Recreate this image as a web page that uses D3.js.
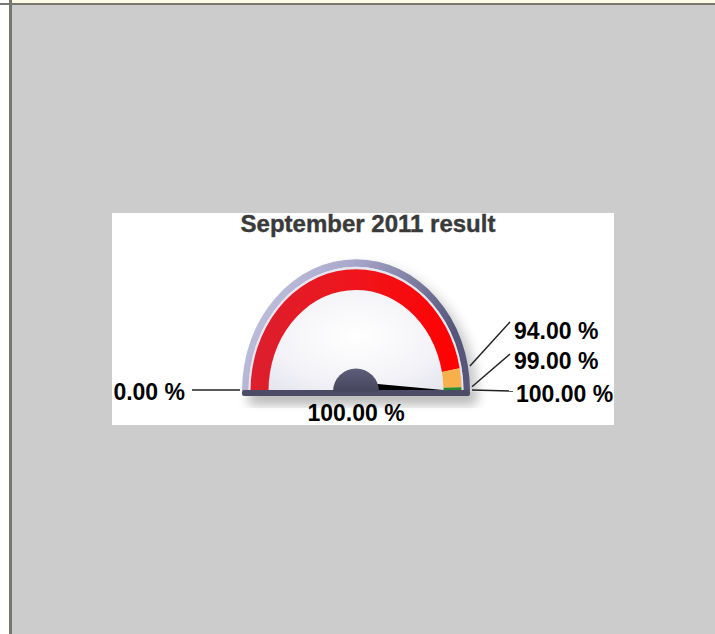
<!DOCTYPE html>
<meta charset="utf-8">
<head>
    <title>Gauge</title>
    <script src="https://d3js.org/d3.v7.min.js"></script>
    <style>
        body { margin: 0; background: #cccccc; }
        text { font-family: "Liberation Sans", Arial, sans-serif; font-weight: bold; }
    </style>
</head>
<body>
<script>
    // chart data
    var titleText = "September 2011 result";
    var bandFrom = [0, 94, 99];
    var bandTo = [94, 99, 100];
    var tickValues = [0, 94, 99, 100];
    var gaugeValue = 100;
    var scaleMin = 0, scaleMax = 100;

    var width = 715, height = 634;
    var bandColors = ["url(#redGrad)", "#f7b04a", "#2a8a2a"];

    var svg = d3.select("body").append("svg")
        .attr("width", width)
        .attr("height", height);

    var defs = svg.append("defs");

    var redGrad = defs.append("linearGradient").attr("id", "redGrad")
        .attr("x1", "0").attr("y1", "0").attr("x2", "1").attr("y2", "0");
    redGrad.append("stop").attr("offset", "0").attr("stop-color", "#dc1f2e");
    redGrad.append("stop").attr("offset", "0.55").attr("stop-color", "#f0141a");
    redGrad.append("stop").attr("offset", "1").attr("stop-color", "#ff0000");

    var rimGrad = defs.append("linearGradient").attr("id", "rimGrad")
        .attr("x1", "0").attr("y1", "0").attr("x2", "1").attr("y2", "0.3");
    rimGrad.append("stop").attr("offset", "0").attr("stop-color", "#cacae4");
    rimGrad.append("stop").attr("offset", "0.45").attr("stop-color", "#a8a8cc");
    rimGrad.append("stop").attr("offset", "1").attr("stop-color", "#56567a");

    var faceGrad = defs.append("radialGradient").attr("id", "faceGrad")
        .attr("cx", "0.5").attr("cy", "0.55").attr("r", "0.6");
    faceGrad.append("stop").attr("offset", "0").attr("stop-color", "#ffffff");
    faceGrad.append("stop").attr("offset", "0.6").attr("stop-color", "#f4f4f8");
    faceGrad.append("stop").attr("offset", "1").attr("stop-color", "#e4e4ee");

    var hubGrad = defs.append("linearGradient").attr("id", "hubGrad")
        .attr("x1", "0").attr("y1", "0").attr("x2", "0").attr("y2", "1");
    hubGrad.append("stop").attr("offset", "0").attr("stop-color", "#5e5e7a");
    hubGrad.append("stop").attr("offset", "1").attr("stop-color", "#45455e");

    defs.append("filter").attr("id", "blur")
        .attr("x", "-30%").attr("y", "-30%").attr("width", "160%").attr("height", "160%")
        .append("feGaussianBlur").attr("stdDeviation", 6);

    // page frame
    svg.append("rect").attr("x", 0).attr("y", 0).attr("width", width).attr("height", 3).attr("fill", "#fdfbe6");
    svg.append("rect").attr("x", 0).attr("y", 0).attr("width", 9).attr("height", height).attr("fill", "#ffffff");
    svg.append("rect").attr("x", 0).attr("y", 3).attr("width", width).attr("height", 2).attr("fill", "#77776f");
    svg.append("rect").attr("x", 9).attr("y", 0).attr("width", 3).attr("height", height).attr("fill", "#77776f");

    // chart panel
    svg.append("rect").attr("x", 112).attr("y", 213).attr("width", 502).attr("height", 212).attr("fill", "#ffffff");

    svg.append("text")
        .attr("x", 368).attr("y", 232)
        .attr("text-anchor", "middle")
        .attr("fill", "#3a3a3a")
        .attr("stroke", "#3a3a3a").attr("stroke-width", 0.4)
        .style("font-size", "24px")
        .text(titleText);

    var cx = 356, cy = 391, sy = 1.155;
    var rimOuter = 114, rimInner = 107.5, bandOuter = 105.5, bandInner = 87.5;

    var angle = d3.scaleLinear().domain([scaleMin, scaleMax]).range([-Math.PI / 2, Math.PI / 2]);
    var fmt = function (v) { return d3.format(".2f")(v) + " %"; };

    // point on the (elliptic) dial for a value at circle-radius r
    function dialPoint(v, r) {
        var a = angle(v);
        return [cx + r * Math.sin(a), cy - r * Math.cos(a) * sy];
    }

    var arc = d3.arc();

    // shadow
    svg.append("path")
        .attr("transform", "translate(" + (cx + 8) + "," + (cy + 8) + ") scale(1," + sy + ")")
        .attr("d", arc({ innerRadius: 0, outerRadius: rimOuter, startAngle: -Math.PI / 2, endAngle: Math.PI / 2 }))
        .attr("fill", "#000")
        .attr("opacity", 0.22)
        .attr("filter", "url(#blur)");
    svg.append("rect")
        .attr("x", cx - rimOuter + 6).attr("y", cy + 4).attr("width", rimOuter * 2).attr("height", 10)
        .attr("fill", "#000").attr("opacity", 0.22).attr("filter", "url(#blur)");

    var dial = svg.append("g")
        .attr("transform", "translate(" + cx + "," + cy + ") scale(1," + sy + ")");

    dial.append("path")
        .attr("d", arc({ innerRadius: rimInner, outerRadius: rimOuter, startAngle: -Math.PI / 2, endAngle: Math.PI / 2 }))
        .attr("fill", "url(#rimGrad)");

    // light inner edge of the rim
    dial.append("path")
        .attr("d", arc({ innerRadius: rimInner - 1.5, outerRadius: rimInner, startAngle: -Math.PI / 2, endAngle: Math.PI / 2 }))
        .attr("fill", "#e6e6f2");

    dial.append("path")
        .attr("d", arc({ innerRadius: 0, outerRadius: rimInner - 1.5, startAngle: -Math.PI / 2, endAngle: Math.PI / 2 }))
        .attr("fill", "url(#faceGrad)");

    dial.selectAll(".band")
        .data(bandFrom)
        .enter().append("path")
        .attr("class", "band")
        .attr("d", function (d, i) {
            return arc({ innerRadius: bandInner, outerRadius: bandOuter, startAngle: angle(d), endAngle: angle(bandTo[i]) });
        })
        .attr("fill", function (d, i) { return bandColors[i]; });

    // needle (lower half is hidden behind the base bar)
    var tip = dialPoint(gaugeValue, 98);
    var na = angle(gaugeValue);
    var ux = Math.cos(na), uy = Math.sin(na);
    svg.append("path")
        .attr("d", "M" + (cx - ux * 9) + "," + (cy - uy * 9) + "L" + tip[0] + "," + tip[1] +
            "L" + (cx + ux * 3) + "," + (cy + uy * 3) + "Z")
        .attr("fill", "#000");

    // base bar
    svg.append("rect")
        .attr("x", cx - rimOuter).attr("y", cy - 1)
        .attr("width", rimOuter * 2).attr("height", 6)
        .attr("rx", 2)
        .attr("fill", "#4c4c66");

    // hub
    svg.append("path")
        .attr("transform", "translate(" + cx + "," + (cy + 0.5) + ")")
        .attr("d", arc({ innerRadius: 0, outerRadius: 23, startAngle: -Math.PI / 2, endAngle: Math.PI / 2 }))
        .attr("fill", "url(#hubGrad)");

    // threshold labels
    var labelPos = {
        0: { x: 185, y: 400, anchor: "end", lx: 192, ly: 390 },
        94: { x: 514, y: 339, anchor: "start", lx: 510, ly: 322 },
        99: { x: 514, y: 369, anchor: "start", lx: 510, ly: 354 },
        100: { x: 516, y: 402, anchor: "start", lx: 513, ly: 391 }
    };

    var ticks = svg.append("g");
    tickValues.forEach(function (v) {
        var p = dialPoint(v, rimOuter + 2);
        var lp = labelPos[v];
        ticks.append("line")
            .attr("x1", p[0]).attr("y1", Math.min(p[1], cy - 1))
            .attr("x2", lp.lx).attr("y2", lp.ly)
            .attr("stroke", "#222").attr("stroke-width", 1.5);
        ticks.append("text")
            .attr("x", lp.x).attr("y", lp.y)
            .attr("text-anchor", lp.anchor)
            .attr("fill", "#000")
            .style("font-size", "23px")
            .text(fmt(v));
    });

    // value label
    svg.append("text")
        .attr("x", cx).attr("y", 421)
        .attr("text-anchor", "middle")
        .attr("fill", "#000")
        .style("font-size", "23px")
        .text(fmt(gaugeValue));
</script>
</body>
